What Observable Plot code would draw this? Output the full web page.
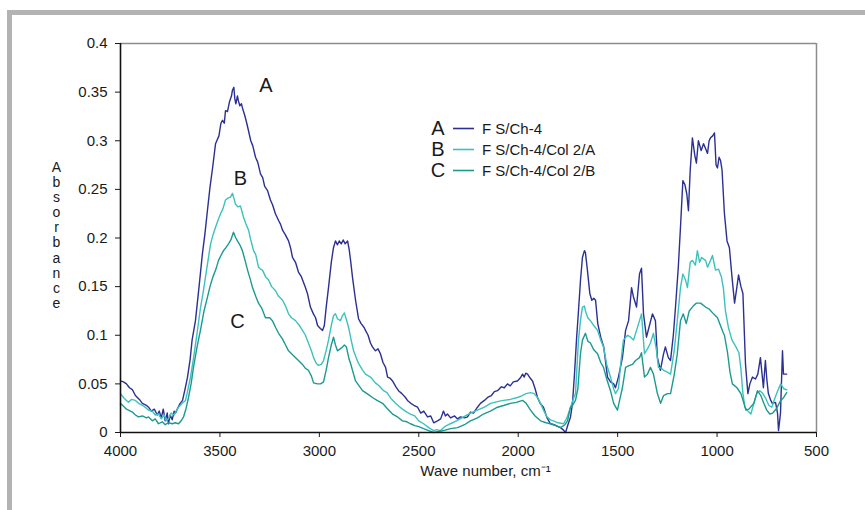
<!DOCTYPE html>
<html><head><meta charset="utf-8">
<script src="https://cdn.jsdelivr.net/npm/d3@7"></script>
<script src="https://cdn.jsdelivr.net/npm/@observablehq/plot@0.6"></script>
<style>
html,body{margin:0;padding:0;background:#fff;overflow:hidden;}
#wrap{position:relative;width:865px;height:510px;overflow:hidden;font-family:"Liberation Sans",Arial,sans-serif;color:#1a1a1a;}
#wrap > svg{position:absolute;left:0;top:0;}
.band{position:absolute;background:#b3b3b3;z-index:2;}
#legend{position:absolute;left:429px;top:118px;z-index:3;}
#legend .row{display:flex;align-items:center;height:21px;}
#legend .let{width:18px;text-align:center;font-size:20px;line-height:21px;}
#legend svg{position:static;display:block;}
#legend .name{font-size:15px;margin-left:6px;line-height:21px;}
</style></head>
<body><div id="wrap">
<div class="band" style="left:7px;top:10px;width:858px;height:5px;"></div>
<div class="band" style="left:7px;top:10px;width:5px;height:500px;"></div>
<div id="legend"></div>
</div>
<script>
const seriesNames = ["F S/Ch-4", "F S/Ch-4/Col 2/A", "F S/Ch-4/Col 2/B"];
const seriesLetters = ["A", "B", "C"];
const seriesColors = ["#2b3092", "#3cc2bd", "#1c9a90"];
const xTicks = [4000, 3500, 3000, 2500, 2000, 1500, 1000, 500];
const xTickLabels = ["4000", "3500", "3000", "2500", "2000", "1500", "1000", "500"];
const yTicks = [0, 0.05, 0.1, 0.15, 0.2, 0.25, 0.3, 0.35, 0.4];
const yTickLabels = ["0", "0.05", "0.1", "0.15", "0.2", "0.25", "0.3", "0.35", "0.4"];
const xTitle = "Wave number, cm\u207B\u00B9";
const yTitle = "Absorbance";

// [wave number, absorbance]
const seriesA = [[4000,0.053],[3985,0.052],[3970,0.050],[3955,0.046],[3940,0.044],[3925,0.038],[3905,0.034],[3890,0.030],[3870,0.028],[3859,0.026],[3845,0.022],[3830,0.024],[3815,0.018],[3805,0.022],[3795,0.015],[3785,0.024],[3775,0.012],[3765,0.020],[3759,0.009],[3750,0.018],[3740,0.013],[3730,0.022],[3723,0.020],[3710,0.026],[3700,0.030],[3688,0.033],[3675,0.045],[3663,0.057],[3650,0.075],[3640,0.095],[3623,0.115],[3605,0.150],[3588,0.184],[3575,0.205],[3563,0.228],[3550,0.252],[3537,0.272],[3522,0.297],[3505,0.305],[3495,0.318],[3487,0.321],[3478,0.318],[3472,0.331],[3462,0.330],[3452,0.340],[3442,0.346],[3437,0.352],[3430,0.355],[3425,0.343],[3420,0.338],[3412,0.346],[3407,0.341],[3400,0.336],[3392,0.338],[3387,0.334],[3375,0.326],[3365,0.318],[3356,0.310],[3345,0.300],[3335,0.295],[3321,0.283],[3310,0.278],[3296,0.266],[3285,0.262],[3275,0.253],[3261,0.249],[3246,0.239],[3235,0.234],[3221,0.225],[3205,0.218],[3195,0.214],[3185,0.208],[3170,0.203],[3155,0.197],[3145,0.190],[3135,0.180],[3120,0.175],[3105,0.165],[3090,0.160],[3070,0.149],[3060,0.143],[3045,0.129],[3030,0.122],[3019,0.118],[3009,0.110],[2995,0.107],[2984,0.105],[2975,0.110],[2965,0.130],[2954,0.149],[2940,0.175],[2929,0.190],[2919,0.197],[2909,0.193],[2900,0.197],[2890,0.194],[2880,0.198],[2870,0.194],[2858,0.197],[2850,0.188],[2843,0.177],[2833,0.159],[2818,0.136],[2803,0.117],[2790,0.112],[2775,0.108],[2768,0.105],[2755,0.100],[2743,0.092],[2733,0.088],[2718,0.084],[2705,0.086],[2693,0.081],[2680,0.072],[2667,0.067],[2657,0.057],[2645,0.056],[2632,0.053],[2615,0.047],[2602,0.043],[2585,0.040],[2567,0.036],[2557,0.033],[2540,0.030],[2525,0.028],[2506,0.026],[2490,0.020],[2475,0.022],[2456,0.016],[2440,0.017],[2425,0.010],[2406,0.012],[2390,0.014],[2376,0.022],[2366,0.017],[2356,0.019],[2340,0.015],[2320,0.017],[2305,0.014],[2290,0.016],[2270,0.015],[2255,0.016],[2240,0.021],[2225,0.020],[2205,0.026],[2190,0.030],[2170,0.033],[2154,0.036],[2135,0.038],[2120,0.042],[2104,0.043],[2085,0.047],[2070,0.046],[2054,0.050],[2040,0.048],[2025,0.052],[2004,0.053],[1990,0.056],[1978,0.060],[1970,0.057],[1962,0.061],[1953,0.060],[1940,0.056],[1928,0.053],[1915,0.045],[1903,0.036],[1890,0.030],[1873,0.026],[1855,0.015],[1838,0.009],[1820,0.008],[1800,0.006],[1787,0.005],[1775,0.003],[1762,0.000],[1750,0.008],[1737,0.016],[1727,0.030],[1717,0.060],[1707,0.095],[1697,0.125],[1687,0.156],[1677,0.180],[1667,0.187],[1662,0.185],[1652,0.167],[1640,0.143],[1630,0.136],[1620,0.138],[1611,0.136],[1600,0.112],[1585,0.098],[1570,0.088],[1551,0.057],[1536,0.052],[1520,0.050],[1511,0.046],[1496,0.057],[1476,0.077],[1460,0.105],[1445,0.115],[1430,0.149],[1420,0.139],[1405,0.129],[1390,0.163],[1380,0.169],[1370,0.122],[1355,0.098],[1340,0.110],[1325,0.122],[1310,0.115],[1300,0.077],[1285,0.064],[1270,0.080],[1260,0.088],[1245,0.077],[1234,0.074],[1220,0.100],[1209,0.129],[1195,0.170],[1184,0.211],[1172,0.259],[1162,0.255],[1152,0.245],[1144,0.228],[1135,0.270],[1124,0.303],[1112,0.285],[1104,0.277],[1094,0.300],[1080,0.290],[1068,0.297],[1058,0.292],[1048,0.287],[1040,0.300],[1033,0.303],[1022,0.305],[1013,0.308],[1005,0.275],[998,0.272],[990,0.283],[983,0.280],[975,0.270],[963,0.225],[950,0.197],[938,0.190],[925,0.160],[912,0.133],[900,0.150],[892,0.162],[880,0.150],[870,0.143],[857,0.070],[845,0.040],[835,0.050],[822,0.057],[807,0.055],[795,0.060],[782,0.077],[767,0.046],[757,0.074],[750,0.055],[742,0.040],[730,0.033],[722,0.030],[706,0.031],[696,0.020],[691,0.002],[681,0.020],[671,0.084],[666,0.060],[650,0.060]];

const seriesB = [[4000,0.040],[3985,0.036],[3970,0.033],[3960,0.031],[3945,0.034],[3925,0.033],[3909,0.030],[3890,0.028],[3870,0.025],[3859,0.023],[3840,0.022],[3825,0.018],[3809,0.019],[3795,0.014],[3780,0.018],[3770,0.012],[3759,0.014],[3745,0.020],[3730,0.018],[3715,0.024],[3708,0.026],[3690,0.030],[3673,0.033],[3660,0.045],[3648,0.057],[3630,0.080],[3613,0.105],[3598,0.128],[3583,0.146],[3565,0.170],[3547,0.194],[3535,0.203],[3522,0.211],[3510,0.218],[3497,0.225],[3485,0.230],[3472,0.239],[3460,0.241],[3447,0.242],[3437,0.246],[3430,0.241],[3422,0.235],[3410,0.232],[3397,0.233],[3390,0.228],[3381,0.221],[3370,0.215],[3356,0.208],[3345,0.198],[3331,0.187],[3320,0.183],[3306,0.170],[3296,0.168],[3286,0.167],[3270,0.160],[3256,0.157],[3240,0.150],[3221,0.146],[3205,0.140],[3185,0.136],[3170,0.130],[3155,0.122],[3140,0.118],[3120,0.115],[3100,0.110],[3085,0.105],[3070,0.100],[3055,0.092],[3040,0.084],[3029,0.077],[3015,0.071],[3004,0.069],[2990,0.070],[2979,0.074],[2965,0.085],[2954,0.095],[2940,0.110],[2929,0.120],[2919,0.122],[2909,0.117],[2894,0.115],[2884,0.120],[2874,0.123],[2864,0.116],[2853,0.108],[2840,0.095],[2828,0.084],[2815,0.077],[2803,0.071],[2785,0.065],[2768,0.060],[2743,0.057],[2718,0.051],[2700,0.048],[2677,0.043],[2660,0.041],[2640,0.035],[2617,0.030],[2600,0.027],[2582,0.024],[2560,0.021],[2542,0.019],[2520,0.017],[2500,0.012],[2476,0.009],[2450,0.005],[2426,0.002],[2410,0.003],[2391,0.002],[2370,0.006],[2341,0.009],[2310,0.012],[2275,0.016],[2240,0.020],[2205,0.023],[2170,0.026],[2139,0.030],[2100,0.032],[2074,0.033],[2040,0.034],[2004,0.036],[1980,0.038],[1960,0.040],[1938,0.041],[1920,0.040],[1903,0.036],[1888,0.030],[1873,0.023],[1855,0.016],[1838,0.013],[1823,0.012],[1800,0.010],[1772,0.009],[1755,0.015],[1737,0.026],[1722,0.035],[1712,0.040],[1697,0.095],[1687,0.115],[1677,0.129],[1667,0.130],[1662,0.125],[1650,0.118],[1637,0.115],[1620,0.110],[1601,0.105],[1585,0.095],[1571,0.088],[1555,0.070],[1536,0.057],[1520,0.045],[1511,0.040],[1496,0.045],[1485,0.070],[1471,0.095],[1450,0.100],[1435,0.098],[1420,0.095],[1405,0.105],[1390,0.115],[1380,0.122],[1365,0.081],[1350,0.086],[1335,0.092],[1320,0.102],[1305,0.085],[1295,0.067],[1280,0.066],[1269,0.064],[1250,0.062],[1234,0.060],[1215,0.085],[1200,0.115],[1184,0.149],[1172,0.163],[1159,0.157],[1149,0.149],[1135,0.175],[1124,0.177],[1109,0.172],[1099,0.187],[1088,0.175],[1078,0.180],[1058,0.177],[1048,0.170],[1033,0.177],[1023,0.182],[1008,0.167],[993,0.168],[978,0.160],[968,0.148],[958,0.125],[943,0.108],[925,0.095],[905,0.088],[890,0.082],[880,0.065],[870,0.040],[860,0.026],[845,0.022],[830,0.019],[815,0.030],[800,0.040],[785,0.043],[770,0.040],[755,0.035],[740,0.028],[725,0.026],[710,0.035],[695,0.043],[680,0.050],[665,0.045],[650,0.044]];

const seriesC = [[4000,0.030],[3985,0.027],[3970,0.024],[3960,0.023],[3940,0.021],[3925,0.018],[3909,0.016],[3890,0.017],[3870,0.015],[3859,0.016],[3840,0.012],[3825,0.014],[3809,0.009],[3790,0.011],[3775,0.008],[3759,0.010],[3740,0.009],[3725,0.010],[3708,0.009],[3695,0.012],[3683,0.016],[3670,0.025],[3658,0.036],[3645,0.050],[3633,0.067],[3615,0.088],[3598,0.105],[3580,0.125],[3563,0.139],[3550,0.150],[3537,0.159],[3520,0.168],[3507,0.177],[3495,0.182],[3482,0.187],[3470,0.190],[3457,0.194],[3445,0.198],[3432,0.206],[3420,0.200],[3412,0.197],[3400,0.193],[3387,0.187],[3375,0.178],[3361,0.167],[3348,0.158],[3336,0.149],[3320,0.140],[3306,0.133],[3290,0.128],[3271,0.118],[3250,0.118],[3236,0.115],[3220,0.108],[3205,0.102],[3185,0.096],[3170,0.090],[3155,0.084],[3130,0.079],[3105,0.074],[3085,0.070],[3070,0.066],[3055,0.064],[3040,0.058],[3029,0.051],[3010,0.050],[2994,0.050],[2979,0.052],[2965,0.065],[2954,0.077],[2940,0.090],[2929,0.098],[2919,0.090],[2909,0.084],[2895,0.086],[2884,0.088],[2874,0.090],[2864,0.088],[2850,0.075],[2843,0.071],[2828,0.060],[2818,0.053],[2800,0.048],[2783,0.043],[2760,0.040],[2733,0.036],[2710,0.033],[2682,0.030],[2660,0.025],[2632,0.019],[2607,0.016],[2582,0.012],[2560,0.011],[2542,0.009],[2520,0.007],[2500,0.006],[2476,0.004],[2450,0.002],[2426,0.000],[2400,0.001],[2376,0.002],[2340,0.004],[2305,0.005],[2270,0.008],[2240,0.012],[2205,0.015],[2175,0.019],[2140,0.022],[2104,0.026],[2070,0.028],[2039,0.030],[2010,0.031],[1978,0.033],[1960,0.030],[1938,0.023],[1915,0.017],[1888,0.012],[1860,0.010],[1838,0.009],[1810,0.007],[1787,0.005],[1765,0.008],[1752,0.012],[1737,0.026],[1727,0.028],[1712,0.033],[1700,0.045],[1687,0.081],[1677,0.095],[1662,0.102],[1650,0.094],[1637,0.092],[1620,0.085],[1601,0.081],[1585,0.072],[1571,0.067],[1555,0.055],[1536,0.043],[1520,0.030],[1501,0.023],[1488,0.035],[1476,0.046],[1460,0.067],[1440,0.069],[1425,0.070],[1410,0.074],[1390,0.077],[1380,0.082],[1365,0.057],[1350,0.060],[1335,0.067],[1320,0.060],[1300,0.040],[1284,0.030],[1269,0.038],[1250,0.040],[1234,0.040],[1215,0.060],[1200,0.081],[1184,0.115],[1170,0.122],[1155,0.112],[1140,0.125],[1120,0.130],[1105,0.133],[1083,0.133],[1058,0.129],[1040,0.127],[1018,0.122],[998,0.118],[983,0.110],[968,0.102],[963,0.100],[948,0.083],[935,0.062],[923,0.050],[900,0.046],[880,0.040],[865,0.030],[855,0.023],[840,0.024],[815,0.030],[797,0.043],[780,0.038],[765,0.030],[750,0.023],[735,0.019],[720,0.020],[700,0.025],[680,0.033],[665,0.036],[650,0.041]];

const allSeries = [seriesA, seriesB, seriesC];
const rows = allSeries.flatMap((s, i) => s.map(([wn, abs]) => ({wn, abs, key: seriesLetters[i]})));

// annotation letters placed relative to each spectrum's O-H band maximum
const labelOffsets = [[32, -2], [8, -15], [4, 89]];
const peaks = allSeries.map((s, i) => {
  const p = d3.greatest(s.filter(d => d[0] > 3000), d => d[1]);
  return {wn: p[0], abs: p[1], text: seriesLetters[i], dx: labelOffsets[i][0], dy: labelOffsets[i][1]};
});

const font = '"Liberation Sans", Arial, sans-serif';
const chart = Plot.plot({
  width: 865, height: 510,
  marginLeft: 120, marginRight: 49, marginTop: 43, marginBottom: 78,
  style: {fontFamily: font, fontSize: "15px", color: "#1a1a1a", background: "transparent", overflow: "visible"},
  x: {domain: [4000, 500], ticks: xTicks, tickFormat: (d) => xTickLabels[xTicks.indexOf(d)], tickSize: 5, tickPadding: 8, label: null},
  y: {domain: [0, 0.4], ticks: yTicks, tickFormat: (d) => yTickLabels[yTicks.findIndex(t => Math.abs(t - d) < 1e-9)], tickSize: 5, tickPadding: 8, label: null},
  color: {domain: seriesLetters, range: seriesColors},
  marks: [
    Plot.ruleY([0.4], {stroke: "#8c8c8c", strokeWidth: 1.5}),
    Plot.ruleX([500], {stroke: "#8c8c8c", strokeWidth: 1.5}),
    Plot.line(rows, {x: "wn", y: "abs", z: "key", stroke: "key", strokeWidth: 1.4}),
    Plot.ruleY([0], {stroke: "#111", strokeWidth: 1.6}),
    Plot.ruleX([4000], {stroke: "#111", strokeWidth: 1.6}),
    ...peaks.map(p => Plot.text([p], {x: "wn", y: "abs", text: "text", dx: p.dx, dy: p.dy, fontSize: 20, fill: "#1a1a1a"})),
    Plot.text([yTitle.split("").join("\n")], {frameAnchor: "left", text: d => d, dx: -64, dy: -3, lineHeight: 1.08, fontSize: 14, textAnchor: "middle", fill: "#1a1a1a"}),
    Plot.text([xTitle], {frameAnchor: "bottom", text: d => d, dx: 17, dy: 43, fontSize: 15, fill: "#1a1a1a"})
  ]
});
document.getElementById("wrap").appendChild(chart);

const legend = document.getElementById("legend");
seriesNames.forEach((name, i) => {
  const row = document.createElement("div");
  row.className = "row";
  row.innerHTML = `<span class="let">${seriesLetters[i]}</span><svg width="29" height="21"><line x1="6" x2="27" y1="10.5" y2="10.5" stroke="${seriesColors[i]}" stroke-width="1.6"/></svg><span class="name">${name}</span>`;
  legend.appendChild(row);
});
</script>
</body></html>
